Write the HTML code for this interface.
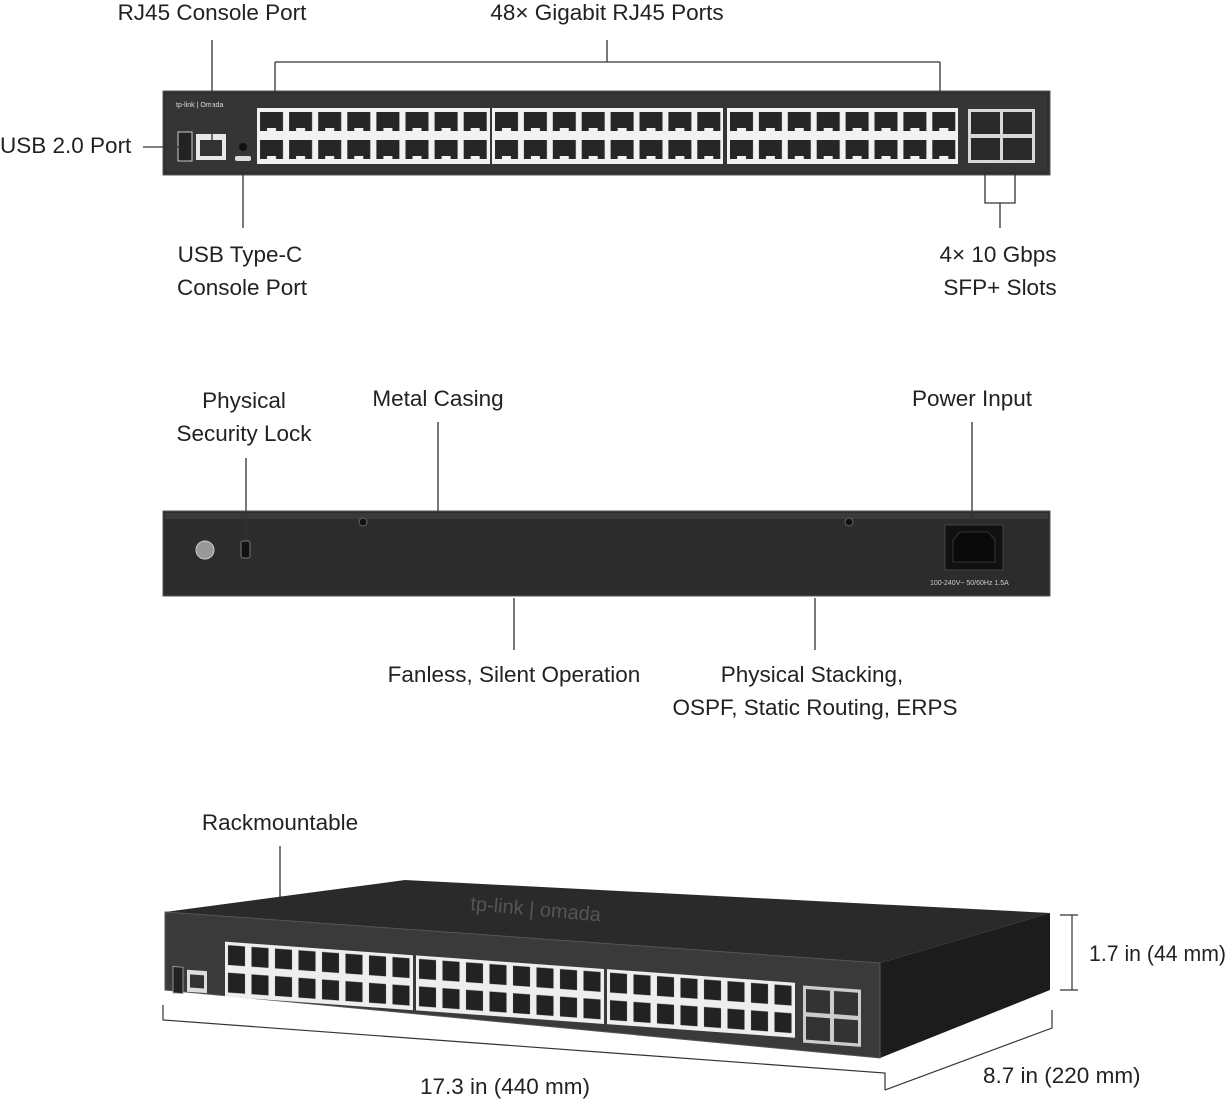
<!DOCTYPE html>
<html><head><meta charset="utf-8"><style>
html,body{margin:0;padding:0;background:#fff}
svg{display:block}
text{font-family:"Liberation Sans",sans-serif;font-size:22.5px;fill:#222}
</style></head><body>
<svg width="1228" height="1100" viewBox="0 0 1228 1100" xmlns="http://www.w3.org/2000/svg">
<defs>
<pattern id="p1a" x="257" y="108" width="29.1" height="28" patternUnits="userSpaceOnUse">
<rect x="0" y="0" width="29.1" height="28" fill="#f2f2f2"/>
<rect x="3" y="4" width="23" height="19" fill="#262626"/>
<rect x="10" y="20" width="9" height="4" fill="#f2f2f2"/>
</pattern>
<pattern id="p1b" x="492" y="108" width="28.9" height="28" patternUnits="userSpaceOnUse">
<rect x="0" y="0" width="28.9" height="28" fill="#f2f2f2"/>
<rect x="3" y="4" width="23" height="19" fill="#262626"/>
<rect x="10" y="20" width="9" height="4" fill="#f2f2f2"/>
</pattern>
<pattern id="p1c" x="727" y="108" width="28.9" height="28" patternUnits="userSpaceOnUse">
<rect x="0" y="0" width="28.9" height="28" fill="#f2f2f2"/>
<rect x="3" y="4" width="23" height="19" fill="#262626"/>
<rect x="10" y="20" width="9" height="4" fill="#f2f2f2"/>
</pattern>
<pattern id="p2a" x="62" y="22" width="23.5" height="25" patternUnits="userSpaceOnUse">
<rect x="0" y="0" width="23.5" height="25" fill="#eee"/>
<rect x="3" y="3" width="17" height="18" fill="#222"/>
</pattern>
<pattern id="p2b" x="253" y="22" width="23.5" height="25" patternUnits="userSpaceOnUse">
<rect x="0" y="0" width="23.5" height="25" fill="#eee"/>
<rect x="3" y="3" width="17" height="18" fill="#222"/>
</pattern>
<pattern id="p2c" x="444" y="22" width="23.5" height="25" patternUnits="userSpaceOnUse">
<rect x="0" y="0" width="23.5" height="25" fill="#eee"/>
<rect x="3" y="3" width="17" height="18" fill="#222"/>
</pattern>
</defs>

<!-- FRONT PANEL -->
<text x="212" y="20" text-anchor="middle">RJ45 Console Port</text>
<text x="607" y="20" text-anchor="middle">48× Gigabit RJ45 Ports</text>
<rect x="163" y="91" width="887" height="84" fill="#2e2e2e" stroke="#555" stroke-width="1"/>
<rect x="166" y="94" width="881" height="78" fill="#353535"/>
<rect x="257" y="108" width="233" height="56" fill="url(#p1a)"/>
<rect x="492" y="108" width="231" height="56" fill="url(#p1b)"/>
<rect x="727" y="108" width="231" height="56" fill="url(#p1c)"/>
<rect x="968" y="109" width="67" height="54" fill="#d8d8d8"/>
<rect x="971" y="112" width="29" height="22" fill="#2a2a2a"/><rect x="1003" y="112" width="29" height="22" fill="#2a2a2a"/>
<rect x="971" y="138" width="29" height="22" fill="#2a2a2a"/><rect x="1003" y="138" width="29" height="22" fill="#2a2a2a"/>
<rect x="178" y="132" width="14" height="29" fill="#222" stroke="#ccc"/>
<rect x="196" y="134" width="30" height="26" fill="#e8e8e8"/>
<rect x="200" y="140" width="22" height="16" fill="#333"/>
<circle cx="243" cy="147" r="4" fill="#111"/>
<rect x="235" y="156" width="16" height="5" rx="2" fill="#ddd"/>
<text x="176" y="107" style="font-size:7px;fill:#ddd">tp-link | Omada</text>
<g stroke="#333" stroke-width="1.3" fill="none">
<path d="M212 40V150"/>
<path d="M607 40V62M275 62H940M275 62V96M940 62V96"/>
<path d="M143 147H180"/>
<path d="M243 165V228"/>
<path d="M985 165V203H1015V165M1000 203V228"/>
</g>
<text x="0" y="153">USB 2.0 Port</text>
<text x="240" y="262" text-anchor="middle">USB Type-C</text>
<text x="242" y="295" text-anchor="middle">Console Port</text>
<text x="998" y="262" text-anchor="middle">4× 10 Gbps</text>
<text x="1000" y="295" text-anchor="middle">SFP+ Slots</text>

<!-- BACK PANEL -->
<text x="244" y="408" text-anchor="middle">Physical</text>
<text x="244" y="441" text-anchor="middle">Security Lock</text>
<text x="438" y="406" text-anchor="middle">Metal Casing</text>
<text x="972" y="406" text-anchor="middle">Power Input</text>
<rect x="163" y="511" width="887" height="85" fill="#2c2c2c" stroke="#555"/>
<rect x="165" y="513" width="883" height="6" fill="#3a3a3a"/>
<circle cx="363" cy="522" r="4" fill="#111" stroke="#666"/>
<circle cx="849" cy="522" r="4" fill="#111" stroke="#666"/>
<circle cx="205" cy="550" r="9" fill="#999" stroke="#ccc"/>
<rect x="241" y="541" width="9" height="17" rx="2" fill="#111" stroke="#777"/>
<rect x="945" y="525" width="58" height="45" fill="#111" stroke="#444"/>
<path d="M960 532H988L995 540V562H953V540Z" fill="#0a0a0a" stroke="#333"/>
<text x="930" y="585" style="font-size:7px;fill:#ccc">100-240V~ 50/60Hz 1.5A</text>
<g stroke="#333" stroke-width="1.3" fill="none">
<path d="M246 458V540"/>
<path d="M438 422V511"/>
<path d="M972 422V525"/>
<path d="M514 598V650"/>
<path d="M815 598V650"/>
</g>
<text x="514" y="682" text-anchor="middle">Fanless, Silent Operation</text>
<text x="812" y="682" text-anchor="middle">Physical Stacking,</text>
<text x="815" y="715" text-anchor="middle">OSPF, Static Routing, ERPS</text>

<!-- 3D SWITCH -->
<text x="280" y="830" text-anchor="middle">Rackmountable</text>
<path d="M280 846V898" stroke="#333" stroke-width="1.3"/>
<polygon points="165,912 405,880 1050,913 880,963" fill="#2a2a2a"/>
<polygon points="880,963 1050,913 1050,990 880,1058" fill="#1c1c1c"/>
<polygon points="165,912 880,963 880,1058 165,990" fill="#3a3a3a" stroke="#555"/>
<g transform="matrix(1,0.072,0,1.1,163,913)">
<rect x="62" y="22" width="188" height="50" fill="url(#p2a)"/>
<rect x="253" y="22" width="188" height="50" fill="url(#p2b)"/>
<rect x="444" y="22" width="188" height="50" fill="url(#p2c)"/>
<rect x="640" y="24" width="58" height="52" fill="#ccc"/>
<rect x="643" y="27" width="24" height="21" fill="#333"/><rect x="671" y="27" width="24" height="21" fill="#333"/>
<rect x="643" y="52" width="24" height="21" fill="#333"/><rect x="671" y="52" width="24" height="21" fill="#333"/>
<rect x="10" y="48" width="10" height="24" fill="#222" stroke="#aaa" stroke-width="0.8"/>
<rect x="24" y="50" width="20" height="20" fill="#ddd"/>
<rect x="27" y="54" width="14" height="12" fill="#333"/>
</g>
<text x="470" y="910" transform="rotate(5 470 910)" style="font-size:20px;fill:#555">tp-link | omada</text>
<g stroke="#333" stroke-width="1.2" fill="none">
<path d="M1060 915H1078M1072 915V990M1060 990H1078"/>
<path d="M163 1005V1020L885 1073V1090"/>
<path d="M885 1090L1052 1028V1010"/>
</g>
<text x="1089" y="961" textLength="137" lengthAdjust="spacingAndGlyphs">1.7 in (44 mm)</text>
<text x="505" y="1094" text-anchor="middle">17.3 in (440 mm)</text>
<text x="983" y="1083">8.7  in (220 mm)</text>
</svg>
</body></html>
